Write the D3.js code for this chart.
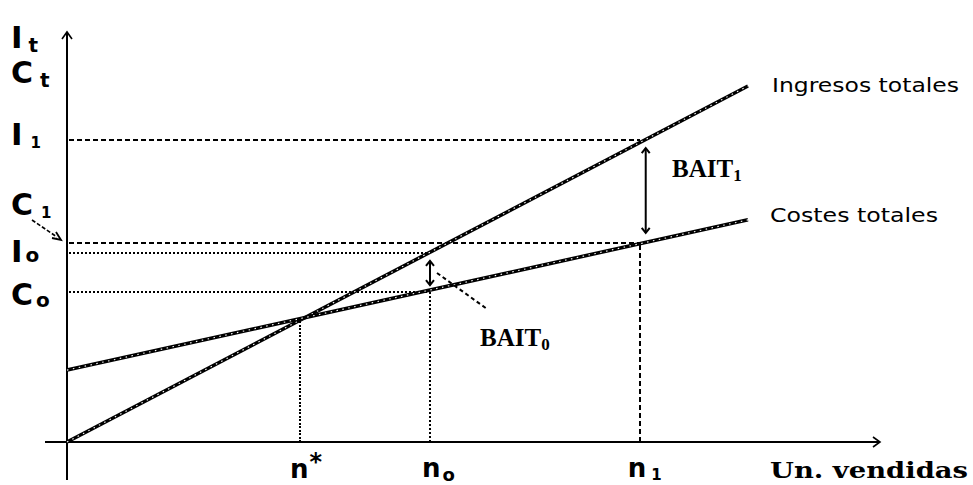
<!DOCTYPE html>
<html>
<head>
<meta charset="utf-8">
<script src="https://cdn.jsdelivr.net/npm/d3@7"></script>
<style>
  body { margin: 0; background: #fff; }
  svg { display: block; }
</style>
</head>
<body>
<div id="chart"></div>
<script>
const width = 973, height = 485;

// data (units on x, money on y, both 0-100)
const ingresos = [[0, 0], [100, 100]];
const costes = [[0, 20.2], [100, 62.4]];
const nValues = {star: 34.2, n0: 53.3, n1: 84.1};
const levels = {I1: 84.8, C1: 55.9, I0: 53.1, C0: 42.1};
const lineNames = ['Ingresos totales', 'Costes totales'];

const svg = d3.select('#chart').append('svg')
  .attr('width', width)
  .attr('height', height);

const x = d3.scaleLinear().domain([0, 100]).range([67, 748]);
const y = d3.scaleLinear().domain([0, 100]).range([442, 86]);

const big = 'DejaVu Sans, sans-serif';

// ---- guide lines (dashed / dotted) ----
function guide(x1, y1, x2, y2, dash, w, crisp) {
  svg.append('line')
    .attr('x1', x1).attr('y1', y1).attr('x2', x2).attr('y2', y2)
    .attr('shape-rendering', crisp ? 'crispEdges' : null)
    .style('stroke', '#000')
    .style('stroke-width', w || 2)
    .style('stroke-dasharray', dash);
}
guide(x(0) + 2, y(levels.I1), x(nValues.n1), y(levels.I1), '5,3', 2, true);
guide(x(0) + 2, y(levels.C1), x(nValues.n1), y(levels.C1), '5,3', 2, true);
guide(x(0) + 2, y(levels.I0), x(nValues.n0), y(levels.I0), '2,2', 2, true);
guide(x(0) + 2, y(levels.C0), x(nValues.n0), y(levels.C0), '2,2', 2, true);
guide(x(nValues.star), y(0), x(nValues.star), y(34.6), '2,1.5', 2, true);
guide(x(nValues.n0), y(0), x(nValues.n0), y(levels.C0) - 3, '2,2', 2, true);
guide(x(nValues.n1), y(0), x(nValues.n1), y(levels.C1), '5,3', 2, true);

// ---- axes ----
svg.append('line')
  .attr('x1', x(0)).attr('y1', 480).attr('x2', x(0)).attr('y2', 32)
  .style('stroke', '#000').style('stroke-width', 2);
svg.append('path')
  .attr('d', `M${x(0) - 5},${39} L${x(0)},${32} L${x(0) + 5},${39}`)
  .style('fill', 'none').style('stroke', '#000').style('stroke-width', 1.6);
svg.append('line')
  .attr('x1', 45).attr('y1', y(0)).attr('x2', 880).attr('y2', y(0))
  .style('stroke', '#000').style('stroke-width', 2);
svg.append('path')
  .attr('d', `M873,${y(0) - 5} L880,${y(0)} L873,${y(0) + 5}`)
  .style('fill', 'none').style('stroke', '#000').style('stroke-width', 1.6);

// ---- the two totals lines ----
const line = d3.line().x(d => x(d[0])).y(d => y(d[1]));
[ingresos, costes].forEach(series => {
  svg.append('path')
    .attr('d', line(series))
    .style('fill', 'none')
    .style('stroke', '#000')
    .style('stroke-width', 3.6);
  // jagged bitmap look
  svg.append('path')
    .attr('d', line(series))
    .style('fill', 'none')
    .style('stroke', '#fff')
    .style('stroke-width', 1.1)
    .style('stroke-dasharray', '1.5,4.5');
});

svg.append('text')
  .text(lineNames[0])
  .attr('x', 772).attr('y', y(100) + 6)
  .attr('textLength', 187).attr('lengthAdjust', 'spacingAndGlyphs')
  .style('font-family', big).style('font-size', '19px');
svg.append('text')
  .text(lineNames[1])
  .attr('x', 770).attr('y', y(62.4) + 2)
  .attr('textLength', 168).attr('lengthAdjust', 'spacingAndGlyphs')
  .style('font-family', big).style('font-size', '19px');

// ---- double arrows for BAIT ----
function doubleArrow(xp, yTop, yBot) {
  svg.append('line')
    .attr('x1', xp).attr('y1', yTop).attr('x2', xp).attr('y2', yBot)
    .style('stroke', '#000').style('stroke-width', 2);
  svg.append('path')
    .attr('d', `M${xp - 4},${yTop + 5} L${xp},${yTop} L${xp + 4},${yTop + 5} M${xp - 4},${yBot - 5} L${xp},${yBot} L${xp + 4},${yBot - 5}`)
    .style('fill', 'none').style('stroke', '#000').style('stroke-width', 2);
}
doubleArrow(x(nValues.n1) + 6, y(levels.I1) + 8, y(levels.C1) - 10);
doubleArrow(x(nValues.n0), y(levels.I0) + 8, y(levels.C0) - 7);

// leader from BAIT0 label
guide(x(nValues.n0) + 7, y(levels.I0) + 20, x(nValues.n0) + 57, y(levels.I0) + 56, '4,3');

const serif = 'Liberation Serif, Times New Roman, serif';
function bait(xp, yp, sub) {
  const t = svg.append('text')
    .attr('x', xp).attr('y', yp)
    .style('font-family', serif).style('font-weight', 'bold').style('font-size', '25px');
  t.append('tspan').text('BAIT');
  t.append('tspan').text(sub).attr('dy', 4).style('font-size', '17px');
}
bait(672, 177, '1');
bait(480, 346, '0');

// ---- axis letter labels ----
function label(xp, yp, main, sub, subDx, subDy, mainSize, subSize) {
  const t = svg.append('text')
    .attr('x', xp).attr('y', yp)
    .style('font-family', big).style('font-weight', 'bold')
    .style('font-size', mainSize + 'px');
  t.append('tspan').text(main);
  t.append('tspan').text(sub)
    .attr('dx', subDx).attr('dy', subDy)
    .style('font-size', subSize + 'px');
}
label(11, 48, 'I', 't', 6, 4, 31, 20);
label(11, 83, 'C', 't', 7, 4, 30, 20);
label(11, y(levels.I1) + 5, 'I', '1', 8, 3, 31, 15);
label(11, 215, 'C', '1', 8, 3, 30, 15);
label(11, y(levels.I0) + 9, 'I', 'o', 3, 0, 31, 20);
label(11, y(levels.C0) + 13, 'C', 'o', 3, 2, 30, 20);

// C1 pointer
guide(32, 220, 57, 237, '4,2', 1.6);
svg.append('path')
  .attr('d', 'M52,238 L61,240 L56,232')
  .style('fill', 'none').style('stroke', '#000').style('stroke-width', 1.8);

label(x(nValues.star) - 10, 478, 'n', '*', 1, -8, 26, 24);
label(x(nValues.n0) - 8, 477, 'n', 'o', 2, 4, 26, 18);
label(x(nValues.n1) - 12, 477, 'n', '1', 5, 3, 26, 15);

svg.append('text')
  .text('Un. vendidas')
  .attr('x', 770).attr('y', 478)
  .attr('textLength', 198).attr('lengthAdjust', 'spacingAndGlyphs')
  .style('font-family', 'DejaVu Serif, serif').style('font-weight', 'bold')
  .style('font-size', '22px');
</script>
</body>
</html>
